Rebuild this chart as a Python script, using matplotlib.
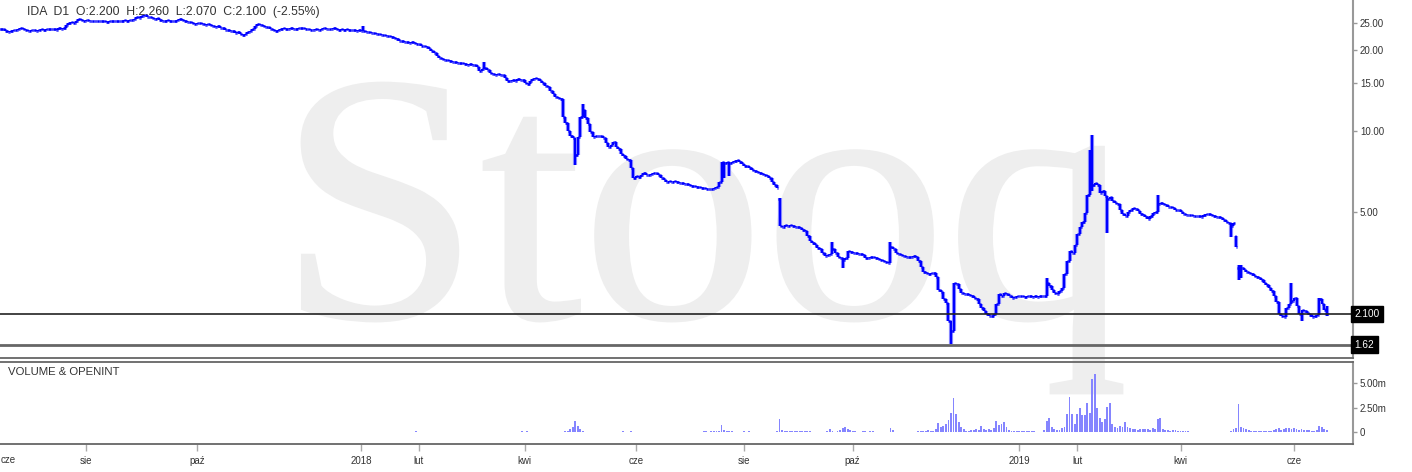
import numpy as np
import pandas as pd
import matplotlib
matplotlib.use("Agg")
import matplotlib.pyplot as plt
from matplotlib.textpath import TextPath
from matplotlib.font_manager import FontProperties
from matplotlib.patches import PathPatch
from matplotlib.transforms import Affine2D, blended_transform_factory

plt.rcParams['font.family'] = ['Liberation Sans', 'DejaVu Sans']

# ---------------- data ----------------
start_date = '2017-06-14'
end_date = '2019-06-20'

close = [
    23.9, 23.8, 23.5, 23.3, 23.4, 23.6, 23.7, 23.8, 23.95, 23.9,
    23.6, 23.5, 23.7, 23.6, 23.4, 23.7, 23.8, 23.7, 23.9, 23.8,
    23.8, 23.9, 23.7, 24.0, 23.9, 24.0, 24.6, 25.0, 25.3, 25.1,
    25.4, 25.9, 25.8, 25.6, 25.7, 25.5, 25.6, 25.4, 25.5, 25.6,
    25.4, 25.5, 25.3, 25.5, 25.4, 25.6, 25.5, 25.4, 25.6, 25.7,
    25.6, 25.8, 25.7, 26.0, 26.3, 26.2, 26.6, 26.8, 26.5, 26.3,
    26.2, 25.9, 26.1, 25.8, 25.6, 25.5, 25.7, 25.6, 25.5, 25.6,
    25.7, 25.9, 25.8, 25.6, 25.3, 25.2, 25.0, 24.9, 25.1, 25.0,
    24.9, 24.7, 24.8, 24.6, 24.5, 24.3, 24.4, 24.1, 24.0, 23.7,
    23.6, 23.5, 23.4, 23.1, 23.2, 22.9, 22.7, 22.9, 23.2, 23.4,
    23.9, 24.4, 24.9, 24.7, 24.5, 24.3, 24.2, 23.9, 23.6, 23.4,
    23.6, 23.8, 24.1, 23.9, 23.8, 24.0, 23.8, 23.9, 24.1, 24.0,
    24.1, 23.9, 23.8, 23.7, 23.6, 23.8, 23.7, 23.9, 24.0, 23.9,
    23.9, 23.8, 24.0, 23.9, 23.7, 23.8, 23.7, 23.8, 23.6, 23.7,
    23.6, 23.5, 23.6, 23.5, 23.4, 23.3, 23.2, 23.1, 23.0, 22.9,
    22.8, 22.6, 22.7, 22.5, 22.4, 22.2, 22.0, 21.8, 21.6, 21.5,
    21.4, 21.3, 21.2, 21.3, 21.1, 21.0, 20.9, 20.7, 20.6, 20.4,
    20.1, 19.8, 19.4, 19.0, 18.6, 18.4, 18.3, 18.3, 18.1, 18.0,
    18.0, 17.9, 17.9, 17.8, 17.7, 17.6, 17.7, 17.6, 17.5, 17.2,
    16.7, 16.9, 17.1, 16.8, 16.4, 16.2, 16.1, 16.2, 16.1, 16.15,
    15.7, 15.3, 15.3, 15.4, 15.3, 15.5, 15.45, 15.4, 15.1, 14.9,
    15.3, 15.6, 15.7, 15.5, 15.3, 15.0, 14.7, 14.5, 14.0, 13.7,
    13.4, 13.2, 13.1, 11.3, 10.7, 10.0, 9.6, 9.4, 8.15, 9.5,
    11.3, 12.0, 11.2, 10.6, 9.9, 9.5, 9.6, 9.6, 9.6, 9.4,
    9.0, 8.7, 8.9, 9.1, 8.75, 8.6, 8.2, 8.1, 7.9, 7.8,
    7.3, 6.7, 6.8, 6.75, 6.9, 7.0, 6.9, 6.85, 6.95, 7.0,
    7.0, 6.9, 6.7, 6.6, 6.5, 6.55, 6.5, 6.52, 6.45, 6.42,
    6.4, 6.38, 6.35, 6.3, 6.28, 6.25, 6.22, 6.2, 6.15, 6.14,
    6.12, 6.1, 6.09, 6.14, 6.2, 6.5, 7.65, 7.6, 7.7, 7.6,
    7.65, 7.75, 7.8, 7.7, 7.55, 7.45, 7.4, 7.3, 7.2, 7.1,
    7.05, 7.0, 6.95, 6.85, 6.8, 6.7, 6.5, 6.3, 6.15, 4.45,
    4.42, 4.47, 4.45, 4.47, 4.44, 4.42, 4.40, 4.36, 4.30, 4.25,
    4.1, 3.92, 3.85, 3.78, 3.7, 3.65, 3.55, 3.46, 3.48, 3.52,
    3.65, 3.55, 3.42, 3.38, 3.32, 3.4, 3.6, 3.58, 3.55, 3.55,
    3.52, 3.5, 3.48, 3.4, 3.38, 3.42, 3.43, 3.38, 3.35, 3.33,
    3.3, 3.27, 3.25, 3.72, 3.65, 3.55, 3.5, 3.47, 3.44, 3.43,
    3.43, 3.42, 3.45, 3.42, 3.3, 3.15, 3.0, 2.98, 2.96, 2.99,
    2.98, 2.88, 2.58, 2.53, 2.4, 2.31, 1.98, 1.82, 2.75, 2.72,
    2.6, 2.52, 2.5, 2.5, 2.47, 2.45, 2.42, 2.38, 2.3, 2.22,
    2.16, 2.1, 2.07, 2.07, 2.1, 2.3, 2.5, 2.45, 2.52, 2.5,
    2.45, 2.42, 2.44, 2.45, 2.46, 2.45, 2.44, 2.45, 2.45, 2.44,
    2.45, 2.44, 2.45, 2.46, 2.45, 2.75, 2.68, 2.58, 2.52, 2.5,
    2.55, 2.62, 2.95, 3.3, 3.6, 3.53, 3.8, 4.15, 4.4, 4.6,
    4.96, 5.8, 8.2, 6.3, 6.4, 6.3, 5.9, 6.0, 5.75, 5.6,
    5.7, 5.5, 5.4, 5.35, 5.1, 4.95, 4.85, 5.0, 5.1, 5.2,
    5.15, 5.05, 4.95, 4.9, 4.8, 4.72, 4.85, 4.97, 5.0, 5.35,
    5.4, 5.38, 5.3, 5.25, 5.22, 5.2, 5.1, 5.08, 5.0, 4.95,
    4.88, 4.9, 4.87, 4.85, 4.83, 4.85, 4.82, 4.9, 4.95, 4.92,
    4.88, 4.85, 4.82, 4.8, 4.75, 4.7, 4.6, 4.55, 4.45, 4.55,
    3.72, 3.05, 3.1, 3.05, 3.0, 2.97, 2.95, 2.9, 2.88, 2.85,
    2.8, 2.75, 2.7, 2.63, 2.55, 2.46, 2.32, 2.1, 2.06, 2.05,
    2.22, 2.3, 2.35, 2.42, 2.25, 2.1, 2.18, 2.15, 2.12, 2.08,
    2.05, 2.07, 2.08, 2.38, 2.3, 2.17, 2.10,
]

# bars whose open / high / low differ from the plain close-to-close bar
# index: (open, high, low)  -- None keeps the default
bar_extremes = {
    144: (None, 24.5, None),
    192: (None, 18.0, None),
    228: (None, None, 7.5),
    231: (None, 12.6, None),
    287: (None, None, 6.7),
    289: (None, None, 6.8),
    309: (5.6, 5.65, None),
    330: (None, 3.9, None),
    334: (None, None, 3.1),
    353: (None, 3.9, None),
    377: (None, None, 1.63),
    415: (None, 2.85, None),
    432: (None, 8.5, None),
    433: (None, 9.7, 6.0),
    439: (None, None, 4.2),
    459: (None, 5.8, None),
    488: (None, None, 4.05),
    490: (4.07, 4.07, None),
    491: (3.1, 3.2, 2.8),
    492: (None, 3.2, 2.85),
    512: (None, 2.75, None),
    516: (None, None, 1.98),
    523: (None, 2.42, None),
    526: (2.2, 2.26, 2.07),
}

volume_m = [
    0, 0, 0, 0, 0, 0, 0, 0, 0, 0, 0, 0, 0, 0, 0, 0, 0, 0, 0, 0,
    0, 0, 0, 0, 0, 0, 0, 0, 0, 0, 0, 0, 0, 0, 0, 0, 0, 0, 0, 0,
    0, 0, 0, 0, 0, 0, 0, 0, 0, 0, 0, 0, 0, 0, 0, 0, 0, 0, 0, 0,
    0, 0, 0, 0, 0, 0, 0, 0, 0, 0, 0, 0, 0, 0, 0, 0, 0, 0, 0, 0,
    0, 0, 0, 0, 0, 0, 0, 0, 0, 0, 0, 0, 0, 0, 0, 0, 0, 0, 0, 0,
    0, 0, 0, 0, 0, 0, 0, 0, 0, 0, 0, 0, 0, 0, 0, 0, 0, 0, 0, 0,
    0, 0, 0, 0, 0, 0.05, 0, 0, 0.04, 0,
    0, 0, 0.04, 0, 0, 0, 0, 0, 0, 0,
    0, 0, 0, 0, 0, 0.04, 0, 0, 0, 0,
    0, 0, 0, 0, 0, 0, 0, 0.04, 0, 0,
    0, 0, 0, 0, 0.05, 0.08, 0, 0, 0, 0,
    0, 0, 0, 0, 0, 0, 0, 0, 0, 0,
    0, 0, 0, 0, 0, 0, 0, 0, 0, 0,
    0, 0, 0, 0, 0, 0, 0, 0, 0, 0,
    0, 0, 0, 0, 0, 0, 0, 0.15, 0, 0.15,
    0, 0, 0, 0, 0, 0, 0, 0, 0, 0,
    0, 0, 0, 0, 0.1, 0.15, 0.3, 0.5, 1.1, 0.6,
    0.3, 0.15, 0.05, 0.05, 0.05, 0, 0.05, 0.05, 0.05, 0,
    0.05, 0, 0.05, 0.05, 0, 0, 0.05, 0.08, 0.05, 0.05,
    0.1, 0.05, 0.05, 0, 0, 0, 0, 0.05, 0, 0,
    0.05, 0, 0, 0, 0, 0, 0, 0, 0, 0,
    0.05, 0, 0, 0, 0, 0, 0, 0, 0.05, 0.1,
    0.1, 0.05, 0.1, 0.15, 0.1, 0.1, 0.7, 0.2, 0.15, 0.1,
    0.1, 0.05, 0, 0, 0, 0.1, 0, 0.1, 0, 0,
    0, 0, 0, 0, 0, 0, 0, 0, 0.1, 1.3,
    0.2, 0.1, 0.1, 0.1, 0.08, 0.1, 0.1, 0.1, 0.08, 0.1,
    0.1, 0.08, 0, 0, 0, 0, 0, 0, 0.1, 0.35,
    0.1, 0.05, 0.1, 0.2, 0.4, 0.5, 0.3, 0.2, 0.1, 0.1,
    0, 0, 0.1, 0.08, 0, 0.1, 0.08, 0, 0, 0,
    0, 0, 0, 0.4, 0.2, 0, 0, 0, 0, 0,
    0, 0, 0, 0.05, 0.1, 0.1, 0.15, 0.1, 0.2, 0.1,
    0.1, 0.3, 0.9, 0.5, 0.6, 0.8, 1.2, 1.9, 3.5, 1.8,
    1.0, 0.5, 0.3, 0.15, 0.15, 0.2, 0.2, 0.3, 0.2, 0.6,
    0.3, 0.2, 0.3, 0.2, 0.4, 1.1, 0.7, 0.8, 1.0, 0.5,
    0.2, 0.1, 0.1, 0.1, 0.1, 0.1, 0.1, 0.1, 0.1, 0.1,
    0.1, 0.05, 0, 0.05, 0.2, 1.1, 1.4, 0.5, 0.3, 0.2,
    0.2, 0.4, 0.5, 1.8, 3.6, 1.8, 0.8, 1.8, 2.4, 1.7,
    1.7, 3.0, 1.9, 5.4, 5.95, 2.4, 1.4, 1.0, 1.3, 2.6,
    3.0, 0.8, 0.5, 0.4, 0.6, 0.5, 1.0, 0.5, 0.4, 0.3,
    0.3, 0.2, 0.35, 0.3, 0.3, 0.3, 0.2, 0.4, 0.3, 1.3,
    1.4, 0.3, 0.2, 0.2, 0.15, 0.2, 0.2, 0.1, 0.1, 0.1,
    0.1, 0.1, 0, 0, 0, 0.05, 0.05, 0.05, 0, 0,
    0, 0, 0, 0, 0.05, 0.05, 0.05, 0.05, 0.1, 0.3,
    0.4, 2.9, 0.5, 0.4, 0.3, 0.2, 0.15, 0.1, 0.1, 0.1,
    0.1, 0.15, 0.1, 0.15, 0.1, 0.2, 0.3, 0.4, 0.2, 0.3,
    0.45, 0.4, 0.3, 0.4, 0.3, 0.25, 0.3, 0.2, 0.25, 0.2,
    0.1, 0.1, 0.2, 0.6, 0.5, 0.3, 0.2,
]

price_ticks = [5, 10, 15, 20, 25]
volume_ticks = [0, 2.5, 5.0]
volume_tick_labels = ['0', '2.50m', '5.00m']
month_names = ['sty', 'lut', 'mar', 'kwi', 'maj', 'cze',
               'lip', 'sie', 'wrz', 'paź', 'lis', 'gru']
labelled_months = [2, 4, 6, 8, 10]
level_lines = [2.1, 1.62]
level_labels = ['2.100', '1.62']
header = 'IDA  D1  O:2.200  H:2.260  L:2.070  C:2.100  (-2.55%)'
panel_title = 'VOLUME & OPENINT'
watermark = 'Stooq'

# ---------------- derived OHLC ----------------
dates = pd.bdate_range(start_date, end_date)
n = len(close)
x = np.arange(n)
closes = np.array(close, dtype=float)
opens = np.r_[closes[0], closes[:-1]]
highs = np.maximum(opens, closes)
lows = np.minimum(opens, closes)
for i, (o, h, l) in bar_extremes.items():
    if o is not None:
        opens[i] = o
    highs[i] = max(opens[i], closes[i], h if h is not None else 0)
    lows[i] = min(opens[i], closes[i], l if l is not None else 1e9)

# ---------------- figure ----------------
W, H, DPI = 1412, 472, 100
fig = plt.figure(figsize=(W / DPI, H / DPI), dpi=DPI, facecolor='white')

# watermark behind both panels
tp = TextPath((0, 0), watermark, size=100,
              prop=FontProperties(family='Liberation Serif'))
ext = tp.get_extents()
wx0, wx1 = 302, 1122
wy0, wy1 = H - 393, H - 83
tr = (Affine2D().translate(-ext.x0, -ext.y0)
      .scale((wx1 - wx0) / ext.width, (wy1 - wy0) / ext.height)
      .translate(wx0, wy0))
wm = PathPatch(tp, transform=tr, facecolor='#eeeeee', edgecolor='#eeeeee',
               lw=2.0, zorder=-5)
fig.add_artist(wm)

right_px = 1353
xlim = (-0.1, 536.4)

# ---- price panel ----
axp = fig.add_axes([0, (H - 358) / H, right_px / W, 358 / H], facecolor='none')
axp.set_yscale('log')
axp.set_ylim(1.446, 30.5)
axp.set_xlim(*xlim)

axp.vlines(x, lows, highs, color='#8c8cff', lw=3.0, zorder=2)
axp.vlines(x, lows, highs, color='#0000ff', lw=1.5, zorder=3)
axp.hlines(opens, x - 0.55, x, color='#0000ff', lw=1.8, zorder=3)
axp.hlines(closes, x, x + 0.55, color='#0000ff', lw=1.8, zorder=3)

axp.axhline(level_lines[0], color='#222222', lw=1.2, zorder=4)
axp.axhline(level_lines[1], color='#666666', lw=2.0, zorder=4)
btr = blended_transform_factory(axp.transAxes, axp.transData)
for lv, lb in zip(level_lines, level_labels):
    axp.text(1.0012, lv, lb, transform=btr, color='white', fontsize=7.2,
             ha='left', va='center', clip_on=False, zorder=6,
             bbox=dict(boxstyle='square,pad=0.33', fc='black', ec='black'))

axp.yaxis.tick_right()
axp.yaxis.set_minor_locator(matplotlib.ticker.NullLocator())
axp.set_yticks(price_ticks)
axp.set_yticklabels([f'{t:.2f}' for t in price_ticks])
axp.tick_params(axis='y', which='both', direction='out', length=3, width=1,
                color='#999999', labelcolor='#333333', labelsize=7, pad=2)
axp.set_xticks([])
for s in ['left', 'top']:
    axp.spines[s].set_visible(False)
axp.spines['right'].set_color('#999999')
axp.spines['right'].set_linewidth(1.5)
axp.spines['bottom'].set_color('#666666')
axp.spines['bottom'].set_linewidth(1.3)

fig.text(27 / W, 1 - 12 / H, header, fontsize=8.8, color='#333333',
         ha='left', va='center')

# ---- volume panel ----
axv = fig.add_axes([0, (H - 444) / H, right_px / W, 82 / H], facecolor='none')
axv.bar(x, volume_m, width=0.75, color='#8585ff', edgecolor='none', zorder=3)
axv.set_ylim(-1.22, 7.14)
axv.set_xlim(*xlim)
axv.yaxis.tick_right()
axv.set_yticks(volume_ticks)
axv.set_yticklabels(volume_tick_labels)
axv.tick_params(axis='y', direction='out', length=3, width=1,
                color='#999999', labelcolor='#333333', labelsize=7, pad=2)

tick_pos, tick_lab = [], []
for i in range(1, n):
    d, p = dates[i], dates[i - 1]
    if d.month != p.month:
        if d.month == 1:
            tick_pos.append(i)
            tick_lab.append(str(d.year))
        elif d.month in labelled_months:
            tick_pos.append(i)
            tick_lab.append(month_names[d.month - 1])
axv.set_xticks(tick_pos)
axv.set_xticklabels(tick_lab)
axv.tick_params(axis='x', direction='out', length=5, width=1,
                color='#aaaaaa', labelcolor='#333333', labelsize=7, pad=4)
axv.spines['left'].set_visible(False)
for s in ['top', 'bottom']:
    axv.spines[s].set_color('#666666')
    axv.spines[s].set_linewidth(1.3)
axv.spines['right'].set_color('#999999')
axv.spines['right'].set_linewidth(1.5)

# month label at the very left edge (June 2017)
fig.text(1 / W, 1 - 460 / H, month_names[5], fontsize=7, color='#333333',
         ha='left', va='center')

fig.text(8 / W, 1 - 372 / H, panel_title, fontsize=8.2, color='#333333',
         ha='left', va='center')

fig.savefig('out.png', dpi=DPI, facecolor='white')
